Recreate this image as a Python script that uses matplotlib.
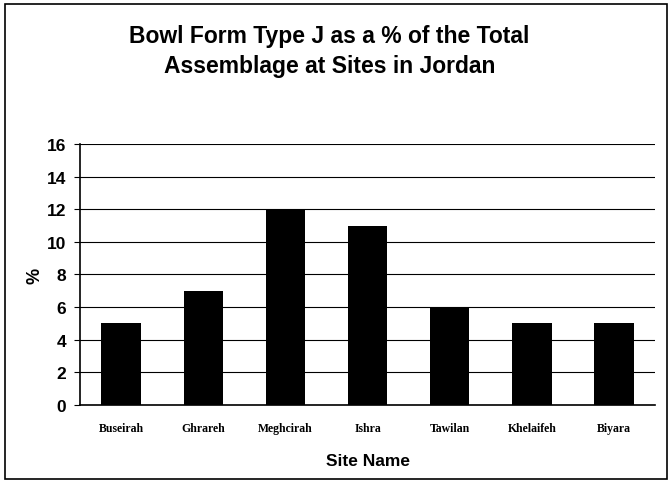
import matplotlib
matplotlib.use("Agg")
import matplotlib.pyplot as plt
from matplotlib.patches import Rectangle

sites = ["Buseirah", "Ghrareh", "Meghcirah", "Ishra", "Tawilan", "Khelaifeh", "Biyara"]
values = [5, 7, 12, 11, 6, 5, 5]
yticks = [0, 2, 4, 6, 8, 10, 12, 14, 16]

fig = plt.figure(figsize=(6.72, 4.85), dpi=100)
fig.patch.set_facecolor("white")
fig.add_artist(Rectangle((0.008, 0.01), 0.984, 0.98, transform=fig.transFigure,
                         fill=False, edgecolor="black", linewidth=1.2))

ax = fig.add_axes([0.119, 0.163, 0.856, 0.538])
x = list(range(len(sites)))
ax.bar(x, values, width=0.48, color="black", zorder=3)
ax.set_xlim(-0.5, len(sites) - 0.5)
ax.set_ylim(0, 16)
ax.set_yticks(yticks)
ax.set_yticklabels([str(t) for t in yticks], fontfamily="Liberation Sans",
                   fontweight="bold", fontsize=12.5)
ax.set_xticks(x)
ax.set_xticklabels(sites, fontfamily="Liberation Serif", fontweight="bold", fontsize=8.5)
ax.grid(axis="y", color="black", linewidth=0.8, zorder=0)
for s in ["top", "right"]:
    ax.spines[s].set_visible(False)
ax.spines["left"].set_linewidth(1.2)
ax.spines["bottom"].set_linewidth(1.2)
ax.tick_params(axis="y", length=4, width=0.8, pad=6)
ax.tick_params(axis="x", length=0, pad=12)

ax.set_ylabel("%", fontfamily="Liberation Sans", fontweight="bold", fontsize=13,
              rotation=90, labelpad=2)
ax.set_xlabel("Site Name", fontfamily="Liberation Sans", fontweight="bold", fontsize=12.5,
              labelpad=14)

fig.text(0.49, 0.893, "Bowl Form Type J as a % of the Total\nAssemblage at Sites in Jordan",
         ha="center", va="center", fontfamily="Liberation Sans", fontweight="bold",
         fontsize=16.5, linespacing=1.4)

fig.savefig("out.png", dpi=100, facecolor="white")
